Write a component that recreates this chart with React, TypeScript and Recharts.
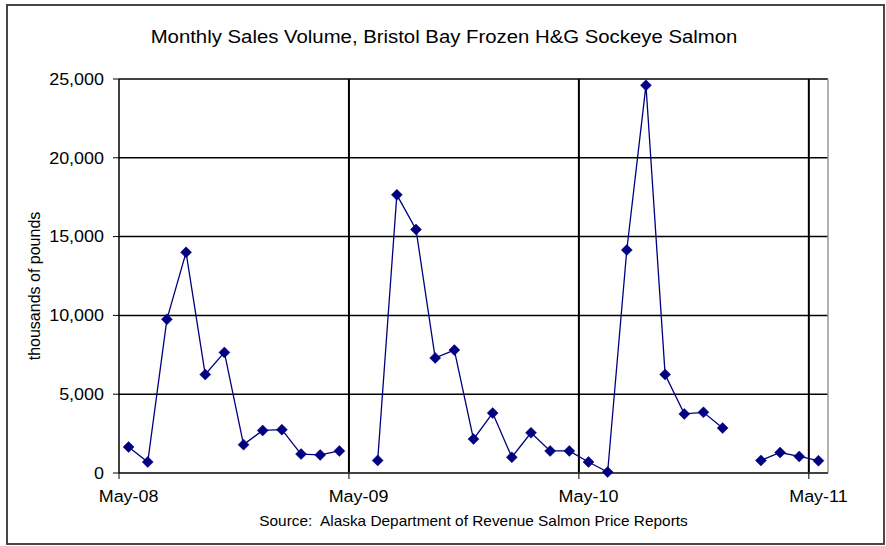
import React from 'react';
import {
  LineChart,
  Line,
  XAxis,
  YAxis,
  CartesianGrid,
  ReferenceLine,
} from 'recharts';

// Months from May 2008 through May 2011
const months = [
  'May-08', 'Jun-08', 'Jul-08', 'Aug-08', 'Sep-08', 'Oct-08', 'Nov-08', 'Dec-08',
  'Jan-09', 'Feb-09', 'Mar-09', 'Apr-09',
  'May-09', 'Jun-09', 'Jul-09', 'Aug-09', 'Sep-09', 'Oct-09', 'Nov-09', 'Dec-09',
  'Jan-10', 'Feb-10', 'Mar-10', 'Apr-10',
  'May-10', 'Jun-10', 'Jul-10', 'Aug-10', 'Sep-10', 'Oct-10', 'Nov-10', 'Dec-10',
  'Jan-11', 'Feb-11', 'Mar-11', 'Apr-11',
  'May-11',
];

// thousands of pounds sold per month (null = no report)
const salesVolume: (number | null)[] = [
  1650, 700, 9750, 14000, 6250, 7650, 1800, 2700, 2750, 1200, 1150, 1400,
  null, 800, 17650, 15450, 7300, 7800, 2150, 3800, 1000, 2550, 1400, 1400,
  700, 60, 14150, 24600, 6250, 3750, 3850, 2850,
  null, 800, 1300, 1050, 780,
];

const yTicks = [0, 5000, 10000, 15000, 20000, 25000];
const yearTicks = [0, 12, 24, 36];

const W = 886;
const H = 546;
const PLOT_LEFT = 119;
const PLOT_RIGHT = 828;
const PLOT_TOP = 79;
const PLOT_BOTTOM = 473;
const BAND = (PLOT_RIGHT - PLOT_LEFT) / months.length;
const STRETCH = 1.1;
const FONT = '"Liberation Sans", Arial, sans-serif';
const NAVY = '#000080';

const chartData = salesVolume.map((v, i) => ({ idx: i + 0.5, month: months[i], v }));

function Diamond(props: any) {
  const { cx, cy, value, index } = props;
  if (value == null || cx == null || cy == null) return <g key={`d-${index}`} />;
  const r = 5.5;
  return (
    <polygon
      key={`d-${index}`}
      points={`${cx},${cy - r} ${cx + r},${cy} ${cx},${cy + r} ${cx - r},${cy}`}
      fill={NAVY}
      stroke={NAVY}
      strokeWidth={0.5}
    />
  );
}

function YTick(props: any) {
  const { x, y, payload } = props;
  return (
    <g transform={`translate(${x},${y}) scale(${STRETCH},1)`}>
      <text x={0} y={5.8} textAnchor="end" fontSize={16.3} fontFamily={FONT} fill="#000">
        {Number(payload.value).toLocaleString('en-US')}
      </text>
    </g>
  );
}

// labels sit under the first month of each year, ticks on the year boundary
function XTick(props: any) {
  const { x, payload } = props;
  return (
    <g transform={`translate(${x + BAND / 2},501.5) scale(${STRETCH},1)`}>
      <text x={0} y={0} textAnchor="middle" fontSize={16.3} fontFamily={FONT} fill="#000">
        {months[payload.value]}
      </text>
    </g>
  );
}

export default function App() {
  return (
    <div style={{ position: 'absolute', left: 0, top: 0, width: W, height: H, background: '#fff' }}>
      <LineChart
        width={W}
        height={H}
        data={chartData}
        margin={{ top: PLOT_TOP, right: W - PLOT_RIGHT, bottom: H - PLOT_BOTTOM - 30, left: PLOT_LEFT - 60 }}
      >
        <CartesianGrid vertical={false} stroke="#000" strokeWidth={1.5} />
        <XAxis
          dataKey="idx"
          type="number"
          domain={[0, months.length]}
          ticks={yearTicks}
          interval={0}
          height={30}
          tick={<XTick />}
          tickSize={6}
          tickLine={{ stroke: '#000' }}
          axisLine={{ stroke: '#444', strokeWidth: 1.5 }}
        />
        <YAxis
          domain={[0, 25000]}
          ticks={yTicks}
          width={60}
          tick={<YTick />}
          tickSize={6}
          tickMargin={9}
          tickLine={{ stroke: '#000' }}
          axisLine={{ stroke: '#000', strokeWidth: 1.5 }}
        />
        <ReferenceLine x={12} stroke="#000" strokeWidth={2} />
        <ReferenceLine x={24} stroke="#000" strokeWidth={2} />
        <ReferenceLine x={36} stroke="#000" strokeWidth={2} />
        <ReferenceLine x={months.length} stroke="#999" strokeWidth={1.5} />
        <Line
          type="linear"
          dataKey="v"
          stroke={NAVY}
          strokeWidth={1.3}
          dot={<Diamond />}
          activeDot={false}
          connectNulls={false}
          isAnimationActive={false}
        />
      </LineChart>
      <svg
        width={W}
        height={H}
        style={{ position: 'absolute', left: 0, top: 0, pointerEvents: 'none' }}
      >
        <rect x={7} y={5} width={877} height={539} fill="none" stroke="#333" strokeWidth={1.8} />
        <g transform={`translate(444,42.7) scale(${STRETCH},1)`}>
          <text x={0} y={0} textAnchor="middle" fontSize={18.5} fontFamily={FONT} fill="#000">
            Monthly Sales Volume, Bristol Bay Frozen H&amp;G Sockeye Salmon
          </text>
        </g>
        <text
          transform="translate(40,286) rotate(-90)"
          textAnchor="middle"
          fontSize={16}
          fontFamily={FONT}
          fill="#000"
        >
          thousands of pounds
        </text>
        <g transform={`translate(473.5,526) scale(${STRETCH},1)`}>
          <text x={0} y={0} textAnchor="middle" fontSize={14} fontFamily={FONT} fill="#000" style={{ whiteSpace: 'pre' }}>
            {'Source:  Alaska Department of Revenue Salmon Price Reports'}
          </text>
        </g>
      </svg>
    </div>
  );
}
